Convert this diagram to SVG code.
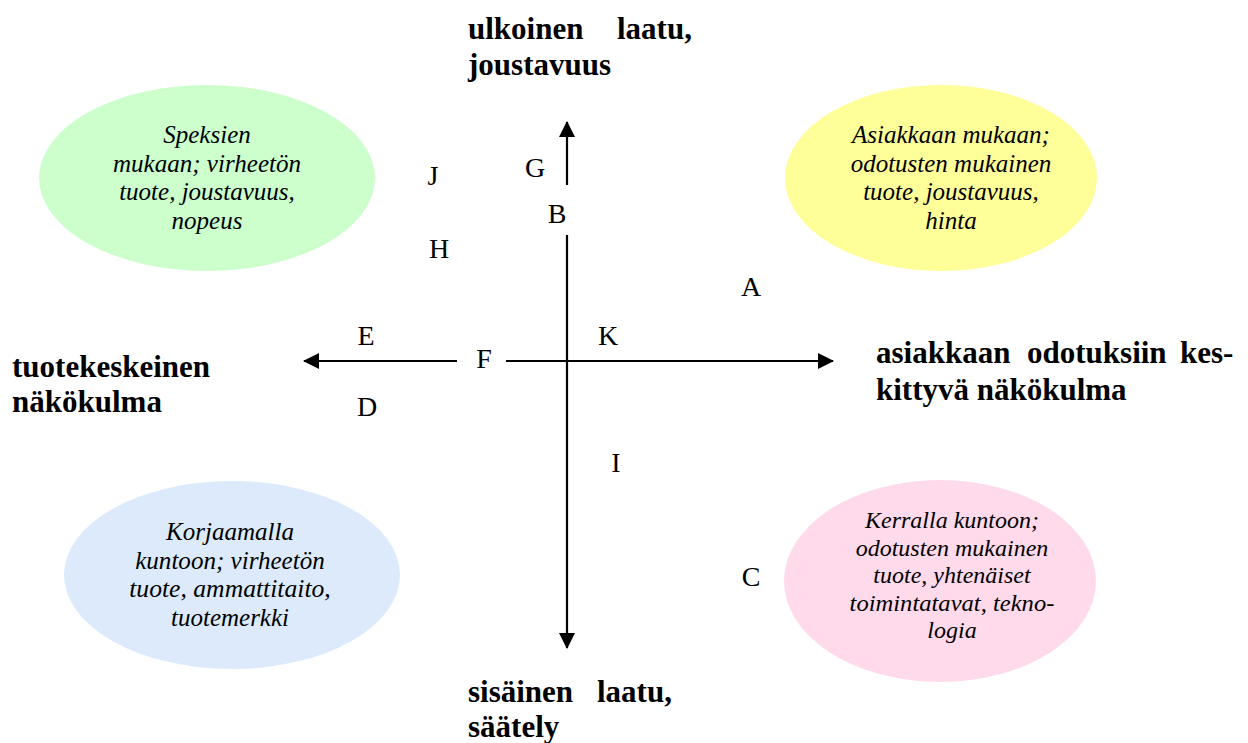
<svg xmlns="http://www.w3.org/2000/svg" width="1248" height="743" viewBox="0 0 1248 743" font-family="Liberation Serif, DejaVu Serif, serif">
<style>
.bold{font-weight:bold;font-size:31px}
.it{font-style:italic;font-size:25px;text-anchor:middle}
.it24{font-style:italic;font-size:24px;text-anchor:middle}
.lab{font-size:28px;text-anchor:middle}
.ax{stroke:#000;stroke-width:2.2;fill:none}
</style>
<defs>
<marker id="ahb" markerWidth="16" markerHeight="16" refX="15" refY="8" orient="auto" markerUnits="userSpaceOnUse" viewBox="0 0 16 16">
<path d="M0,0 L16,8 L0,16 z" fill="#000"/>
</marker>
</defs>
<rect width="1248" height="743" fill="#fff"/>

<g id="green">
<ellipse cx="207" cy="178" rx="168" ry="93" fill="#CCFFCC"/>
<text class="it" x="207" y="143" textLength="87.5" lengthAdjust="spacingAndGlyphs">Speksien</text>
<text class="it" x="207" y="171.5" textLength="188.2" lengthAdjust="spacingAndGlyphs">mukaan; virheetön</text>
<text class="it" x="207" y="200" textLength="175.7" lengthAdjust="spacingAndGlyphs">tuote, joustavuus,</text>
<text class="it" x="207" y="228.5" textLength="70.8" lengthAdjust="spacingAndGlyphs">nopeus</text>
</g>
<g id="yellow">
<ellipse cx="941" cy="178" rx="156" ry="93" fill="#FFFF99"/>
<text class="it" x="951" y="143" textLength="197.9" lengthAdjust="spacingAndGlyphs">Asiakkaan mukaan;</text>
<text class="it" x="951" y="171.5" textLength="200.7" lengthAdjust="spacingAndGlyphs">odotusten mukainen</text>
<text class="it" x="951" y="200" textLength="175.7" lengthAdjust="spacingAndGlyphs">tuote, joustavuus,</text>
<text class="it" x="951" y="228.5" textLength="51.4" lengthAdjust="spacingAndGlyphs">hinta</text>
</g>
<g id="blue">
<ellipse cx="232" cy="575" rx="168" ry="94" fill="#DCEAFC"/>
<text class="it" x="230" y="540" textLength="127.8" lengthAdjust="spacingAndGlyphs">Korjaamalla</text>
<text class="it" x="230" y="568.5" textLength="189.6" lengthAdjust="spacingAndGlyphs">kuntoon; virheetön</text>
<text class="it" x="230" y="597" textLength="201.6" lengthAdjust="spacingAndGlyphs">tuote, ammattitaito,</text>
<text class="it" x="230" y="625.5" textLength="118" lengthAdjust="spacingAndGlyphs">tuotemerkki</text>
</g>
<g id="pink">
<ellipse cx="940" cy="581" rx="156" ry="101" fill="#FEDAEB"/>
<text class="it24" x="952" y="528" textLength="174" lengthAdjust="spacingAndGlyphs">Kerralla kuntoon;</text>
<text class="it24" x="952" y="555.5" textLength="192.6" lengthAdjust="spacingAndGlyphs">odotusten mukainen</text>
<text class="it24" x="952" y="583" textLength="157.3" lengthAdjust="spacingAndGlyphs">tuote, yhtenäiset</text>
<text class="it24" x="952" y="610.5" textLength="204.8" lengthAdjust="spacingAndGlyphs">toimintatavat, tekno-</text>
<text class="it24" x="952" y="638" textLength="49.3" lengthAdjust="spacingAndGlyphs">logia</text>
</g>

<g id="connectors">
<line class="ax" x1="567" y1="185" x2="567" y2="122" marker-end="url(#ahb)"/>
<line class="ax" x1="567" y1="235" x2="567" y2="648" marker-end="url(#ahb)"/>
<line class="ax" x1="457" y1="361" x2="304" y2="361" marker-end="url(#ahb)"/>
<line class="ax" x1="506" y1="361" x2="833" y2="361" marker-end="url(#ahb)"/>
</g>

<g id="axis-labels">
<text class="bold" x="468" y="39" textLength="115.4" lengthAdjust="spacingAndGlyphs">ulkoinen</text>
<text class="bold" x="617" y="39" textLength="74.9" lengthAdjust="spacingAndGlyphs">laatu,</text>
<text class="bold" x="468" y="75" textLength="143" lengthAdjust="spacingAndGlyphs">joustavuus</text>
<text class="bold" x="12" y="377" textLength="198.1" lengthAdjust="spacingAndGlyphs">tuotekeskeinen</text>
<text class="bold" x="12" y="412" textLength="149.9" lengthAdjust="spacingAndGlyphs">näkökulma</text>
<text class="bold" x="876" y="363" textLength="134.4" lengthAdjust="spacingAndGlyphs">asiakkaan</text>
<text class="bold" x="1027" y="363" textLength="139.6" lengthAdjust="spacingAndGlyphs">odotuksiin</text>
<text class="bold" x="1180" y="363" textLength="53.4" lengthAdjust="spacingAndGlyphs">kes-</text>
<text class="bold" x="876" y="400" textLength="250.6" lengthAdjust="spacingAndGlyphs">kittyvä näkökulma</text>
<text class="bold" x="468" y="702" textLength="105.1" lengthAdjust="spacingAndGlyphs">sisäinen</text>
<text class="bold" x="597" y="702" textLength="74.9" lengthAdjust="spacingAndGlyphs">laatu,</text>
<text class="bold" x="468" y="737" textLength="91.3" lengthAdjust="spacingAndGlyphs">säätely</text>
</g>

<g id="letters">
<text class="lab" x="535" y="177">G</text>
<text class="lab" x="557" y="223">B</text>
<text class="lab" x="433" y="185">J</text>
<text class="lab" x="439" y="258">H</text>
<text class="lab" x="751" y="296">A</text>
<text class="lab" x="366" y="345">E</text>
<text class="lab" x="608" y="345">K</text>
<text class="lab" x="484" y="368">F</text>
<text class="lab" x="367" y="416">D</text>
<text class="lab" x="616" y="472">I</text>
<text class="lab" x="751" y="586">C</text>
</g>
</svg>
